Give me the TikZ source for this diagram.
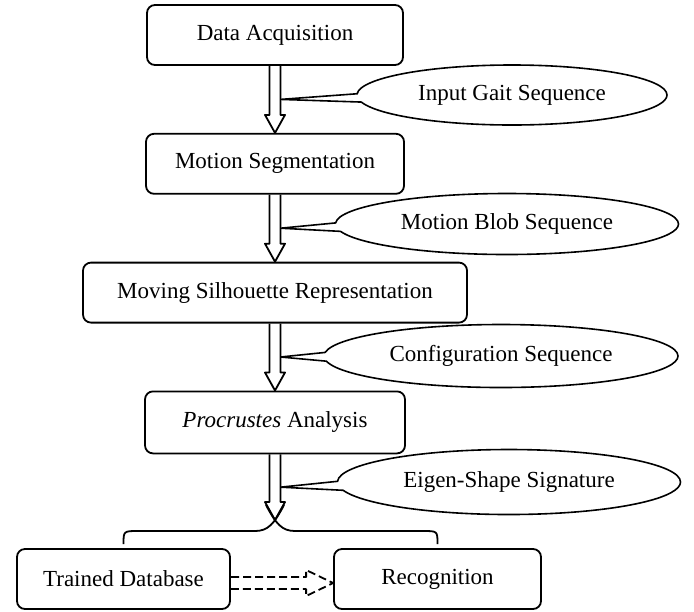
\documentclass[tikz,border=0pt]{standalone}
\usepackage{fontspec}
\setmainfont{Liberation Serif}
\usetikzlibrary{shapes.callouts,positioning,calc}

\newcommand{\shafthalf}{2.75pt}
\newcommand{\headhalf}{5pt}
\newcommand{\headlen}{9pt}
\newcommand{\blockarrow}[3][]{%
\coordinate (hb) at ($(#3)!\headlen!(#2)$);
\draw[flowline,#1] ($(#2)!\shafthalf!-90:(#3)$) -- ($(hb)!\shafthalf!90:(#2)$) -- ($(hb)!\headhalf!90:(#2)$) -- (#3) -- ($(hb)!\headhalf!-90:(#2)$) -- ($(hb)!\shafthalf!-90:(#2)$) -- ($(#2)!\shafthalf!90:(#3)$);}

\begin{document}
\begin{tikzpicture}[x=0.5pt,y=-0.5pt,font=\fontsize{11.5}{14}\selectfont,flowline/.style={line width=0.9pt,line join=round},stepbox/.style={draw,line width=0.9pt,rounded corners=4pt,minimum height=30pt,inner sep=0pt,align=center},note/.style={ellipse callout,draw,line width=0.8pt,inner sep=0pt,callout pointer arc=16},node distance=33.5pt]
\useasboundingbox (0,0) rectangle (694,611);
\node[stepbox,minimum width=128pt] (da) at (275,35) {Data Acquisition};
\node[stepbox,minimum width=129pt,below=of da] (ms) {Motion Segmentation};
\node[stepbox,minimum width=192pt,below=of ms] (msr) {Moving Silhouette Representation};
\node[stepbox,minimum width=130pt,minimum height=31pt,below=of msr] (pa) {\textit{Procrustes} Analysis};
\node[stepbox,minimum width=106.5pt] (td) at (123.5,579) {Trained Database};
\node[stepbox,minimum width=103.5pt] (rec) at (437.5,579) {Recognition};
\coordinate (tip) at (275,520);
\coordinate (p1) at ($(da.south)!0.5!(ms.north)+(\shafthalf,0)$);
\coordinate (p2) at ($(ms.south)!0.5!(msr.north)+(\shafthalf,0)$);
\coordinate (p3) at ($(msr.south)!0.5!(pa.north)+(\shafthalf,0)$);
\coordinate (p4) at ($(pa.south)!0.5!(tip)+(\shafthalf,0)$);
\node[note,minimum width=155pt,minimum height=30pt,callout absolute pointer={(p1)}] (igs) at (512,95) {Input Gait Sequence};
\node[note,minimum width=171.5pt,minimum height=30.5pt,callout absolute pointer={(p2)}] (mbs) at (507,224) {Motion Blob Sequence};
\node[note,minimum width=177pt,minimum height=31.5pt,callout absolute pointer={(p3)}] (cs) at (501,356) {Configuration Sequence};
\node[note,minimum width=171.5pt,minimum height=32.5pt,callout absolute pointer={(p4)}] (ess) at (509,482) {Eigen-Shape Signature};
\blockarrow{da.south}{ms.north}
\blockarrow{ms.south}{msr.north}
\blockarrow{msr.south}{pa.north}
\blockarrow{pa.south}{tip}
\draw[flowline] ([yshift=2pt]td.north) .. controls (123.5,531) .. (138,531) -- (255,531) .. controls (268,531) and (274,524) .. (284,505);
\draw[flowline] ([yshift=2pt]rec.north) .. controls (437.5,531) .. (423,531) -- (295,531) .. controls (282,531) and (276,524) .. (266,505);
\coordinate (dbout) at ([yshift=-2pt]td.east);
\coordinate (recin) at ([yshift=-2pt]rec.west);
\renewcommand{\shafthalf}{3pt}\renewcommand{\headhalf}{6.5pt}\renewcommand{\headlen}{13.5pt}
\blockarrow[dash pattern=on 4pt off 2pt]{dbout}{recin}
\end{tikzpicture}
\end{document}
